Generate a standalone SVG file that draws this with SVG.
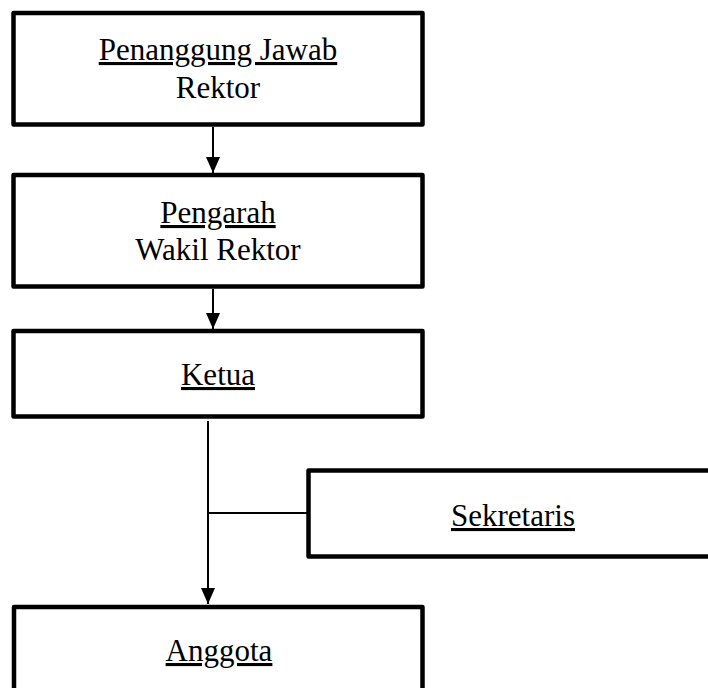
<svg xmlns="http://www.w3.org/2000/svg" width="708" height="688" viewBox="0 0 708 688">
  <style>
    .box { fill: #ffffff; stroke: #000000; stroke-width: 4.5; stroke-linejoin: round; }
    .t { font-family: "Liberation Serif", "Times New Roman", serif; font-size: 31px; fill: #000000; text-anchor: middle; }
    .u { text-decoration: underline; }
    .conn { stroke: #000000; stroke-width: 2; fill: none; }
  </style>
  <defs>
    <marker id="arr" markerWidth="8" markerHeight="7" refX="8" refY="3.5" orient="auto" markerUnits="strokeWidth">
      <path d="M0,0 L8,3.5 L0,7 Z" fill="#000000"/>
    </marker>
  </defs>
  <rect width="708" height="688" fill="#ffffff"/>

  <g id="node-penanggung-jawab">
    <rect class="box" x="13.5" y="13" width="409" height="111.5"/>
    <text class="t u" x="218" y="60">Penanggung Jawab</text>
    <text class="t" x="218" y="98">Rektor</text>
  </g>

  <g id="node-pengarah">
    <rect class="box" x="13.5" y="175" width="409" height="111.5"/>
    <text class="t u" x="218" y="223">Pengarah</text>
    <text class="t" x="218" y="260">Wakil Rektor</text>
  </g>

  <g id="node-ketua">
    <rect class="box" x="13.5" y="331" width="409" height="85.5"/>
    <text class="t u" x="218" y="385">Ketua</text>
  </g>

  <g id="node-sekretaris">
    <rect class="box" x="308.5" y="470.5" width="420" height="86"/>
    <text class="t u" x="513" y="526">Sekretaris</text>
  </g>

  <g id="node-anggota">
    <rect class="box" x="14" y="607" width="408.5" height="100"/>
    <text class="t u" x="219" y="661">Anggota</text>
  </g>

  <g id="connectors">
    <line class="conn" x1="213" y1="127" x2="213" y2="173" marker-end="url(#arr)"/>
    <line class="conn" x1="213" y1="289" x2="213" y2="329" marker-end="url(#arr)"/>
    <line class="conn" x1="208" y1="421" x2="208" y2="604" marker-end="url(#arr)"/>
    <line class="conn" x1="208" y1="513" x2="307" y2="513"/>
  </g>
</svg>
